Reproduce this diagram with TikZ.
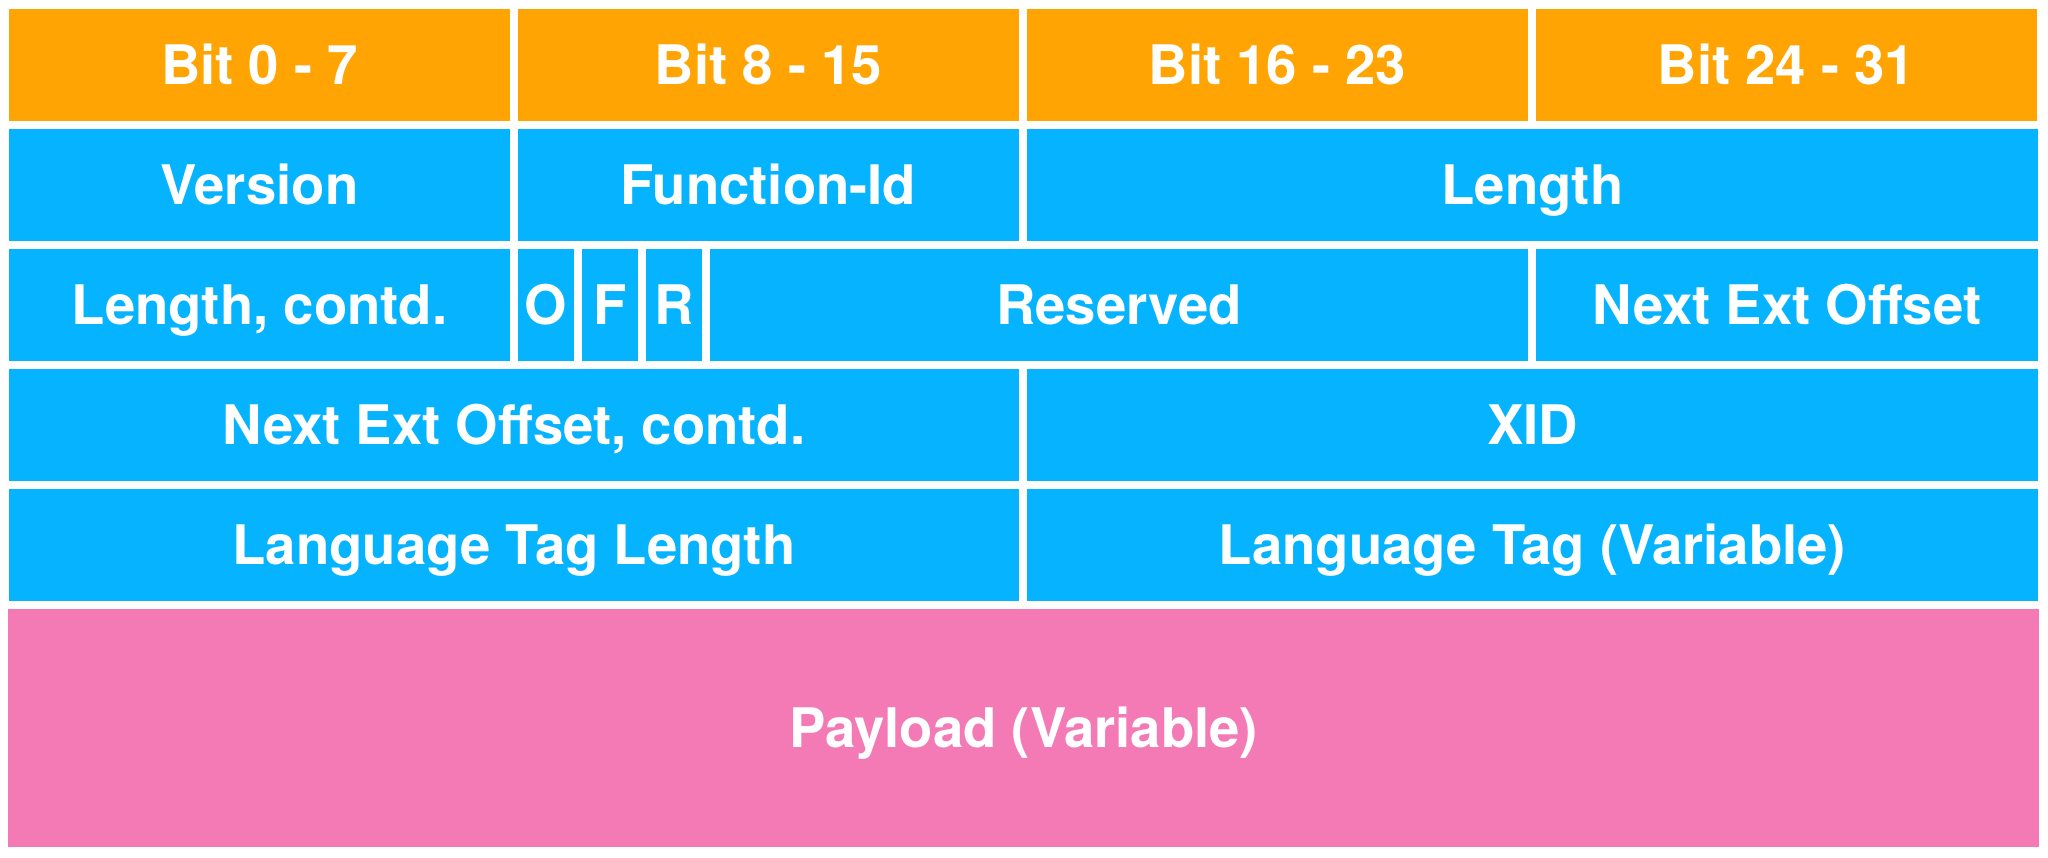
\documentclass[tikz,border=0pt]{standalone}
\usepackage{fontspec}
\setmainfont{TeX Gyre Heros}
\definecolor{hdrorange}{HTML}{FFA402}
\definecolor{fieldblue}{HTML}{05B3FE}
\definecolor{payloadpink}{HTML}{F47AB5}
\tikzset{
  field/.style={fill=fieldblue,text=white,inner sep=0pt,outer sep=0pt,
    minimum height=1.12cm,text height=11.1pt,text depth=0pt,
    font=\fontsize{15.5}{18}\selectfont\bfseries},
  hdr/.style={field,fill=hdrorange,minimum width=5.01cm},
}
\begin{document}
\begin{tikzpicture}[x=0.01cm,y=-0.01cm]
        \useasboundingbox (0,0) rectangle (2048,857); % canvas
        \foreach \i/\lbl in {0/{Bit 0 - 7},1/{Bit 8 - 15},2/{Bit 16 - 23},3/{Bit 24 - 31}}
          \node[hdr] (bit\i) at ({259.5+509*\i},65) {\lbl}; % header row
        \node[field,minimum width=5.01cm] (version) at (259.5,185) {Version};
        \node[field,minimum width=5.01cm] (funcid) at (768.5,185) {Function-Id};
        \node[field,minimum width=10.11cm] (length) at (1532.5,185) {Length};
        \node[field,minimum width=5.01cm] (lencont) at (259.5,305) {Length, contd.};
        \node[field,minimum width=0.56cm] (oflag) at (546,305) {O};
        \node[field,minimum width=0.56cm] (fflag) at (610,305) {F};
        \node[field,minimum width=0.56cm] (rflag) at (674,305) {R};
        \node[field,minimum width=8.18cm] (reserved) at (1119,305) {Reserved};
        \node[field,minimum width=5.02cm] (nextext) at (1787,305) {Next Ext Offset};
        \node[field,minimum width=10.10cm] (nextcont) at (514,425) {Next Ext Offset, contd.};
        \node[field,minimum width=10.11cm] (xid) at (1532.5,425) {XID};
        \node[field,minimum width=10.10cm] (taglen) at (514,545) {Language Tag Length};
        \node[field,minimum width=10.11cm] (langtag) at (1532.5,545) {Language Tag (Variable)};
        \node[field,fill=payloadpink,minimum width=20.29cm,minimum height=2.38cm] (payload) at (1023.5,728) {Payload (Variable)}; % payload
\end{tikzpicture}
\end{document}
